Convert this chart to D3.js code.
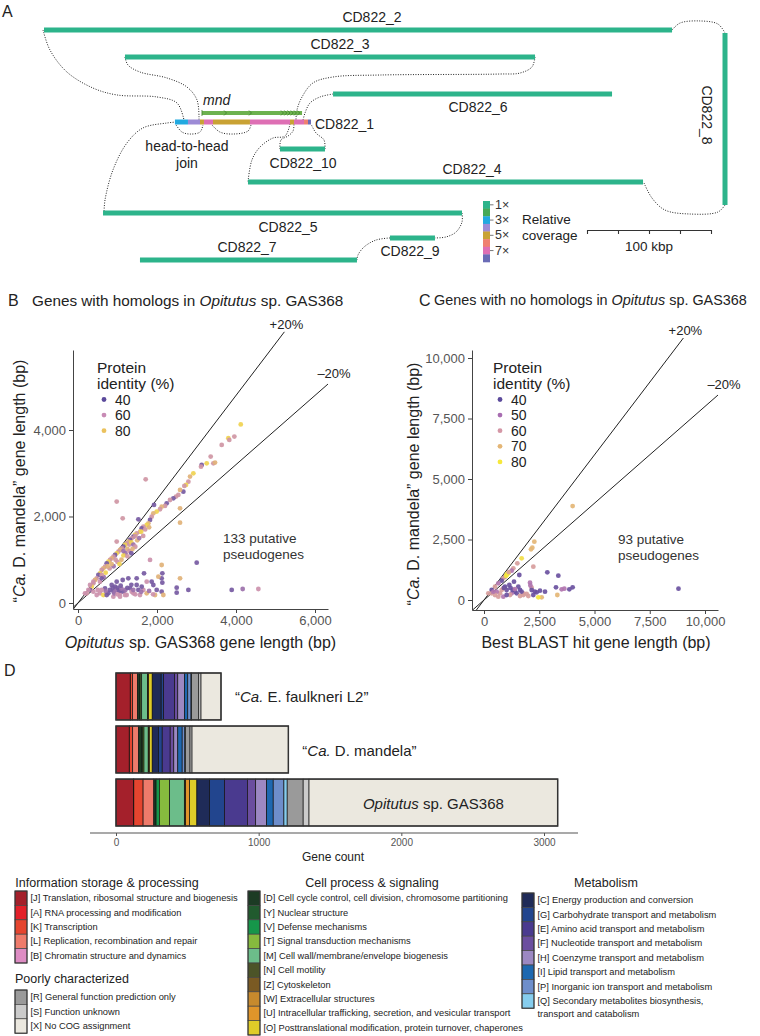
<!DOCTYPE html>
<html>
<head>
<meta charset="utf-8">
<script src="https://cdn.jsdelivr.net/npm/d3@7"></script>
<style>
  body { margin: 0; background: #fff; }
  svg { display: block; font-family: "Liberation Sans", Arial, Helvetica, sans-serif; }
</style>
</head>
<body>
<svg id="fig" width="760" height="1036"></svg>
<script>
// ---------- panel A: contig graph (kbp units) ----------
const contigNames = ["CD822_2", "CD822_3", "CD822_6", "CD822_10", "CD822_4", "CD822_5", "CD822_9", "CD822_7"];
const contigStart = [0, 65.3, 233.1, 190.3, 164.5, 47.6, 279, 77.4];
const contigEnd = [506.5, 396, 458.1, 226.6, 483.1, 337.1, 315.3, 252.4];
const contigRow = [0, 21.8, 51.6, 96, 122.6, 147.6, 167.7, 185.5];
const contigLabelAt = [264.5, 238.7, 350, 208.9, 345.2, 196.8, 295.2, 163.7];
const contigLabelSide = [-1, -1, 1, 1, -1, 1, 1, -1];
// CD822_8 runs vertically
const vertContig = { name: "CD822_8", at: 549.2, from: 2.4, to: 141.1 };
// CD822_1 coverage segments
const c1Breaks = [105.6, 116.1, 125.8, 129, 136.3, 166.1, 198.4, 201.6, 209.7, 212.9, 215.3];
const c1Cov = [3, 4, 5, 7, 5, 7, 5, 7, 6, 8];
const mndSpan = [127.4, 208.1];
const mndRow = 66.9;
const mndGeneEnds = [146.8, 166.9, 192.7, 195.4, 198, 200.6, 203.2, 205.8];
const covLevels = [1, 2, 3, 4, 5, 6, 7, 8];
const covColors = ["#2db48b", "#46a957", "#22a9e0", "#9d8bd6", "#c9a234", "#ef8070", "#de6fb4", "#6a6bb6"];
const covTickLevels = [1, 3, 5, 7];

// dotted joins between contig ends, [kbp, kbp]
const links = [
  [[-0.8, 0], [4.8, 16.1], [18.5, 33.9], [39.5, 46.8], [58.9, 52.4], [91.1, 54], [107.3, 58.9], [112.9, 72.6]],
  [[65.3, 21.8], [67.7, 28.2], [77.4, 33.9], [99.2, 38.7], [115.3, 46], [123.4, 56.5], [125, 72.6]],
  [[106.5, 76.6], [111.3, 82.3], [117.7, 83.9], [125.8, 82.3], [128.2, 76.6]],
  [[135.5, 76.6], [141.9, 82.3], [152.4, 83.9], [164.5, 81.5], [166.9, 76.6]],
  [[106.5, 74.2], [99.2, 75], [79.8, 79], [66.9, 91.1], [55.6, 112.9], [49.2, 137.1], [48.4, 147.6]],
  [[396, 21.8], [393.5, 29.8], [383.9, 34.7], [367.7, 35.5], [271, 36.3], [233.1, 37.9], [216.9, 42.7], [208.1, 54], [204, 64.5], [203.2, 72.6]],
  [[233.1, 51.6], [222.6, 54], [214.5, 58.9], [210.5, 66.9], [208.9, 72.6]],
  [[198.4, 75.8], [194.4, 85.5], [184.7, 87.1], [174.2, 94.4], [167.7, 104.8], [164.5, 122.6]],
  [[190.3, 96], [191.1, 88.7], [196.8, 85.5], [200.8, 81.5], [201.6, 75.8]],
  [[226.6, 96], [225.8, 88.7], [219.4, 83.1], [215.3, 75.8]],
  [[506.5, 0], [512.9, -5.6], [529, -7.3], [543.5, -4.8], [549.2, 2.4]],
  [[549.2, 141.1], [543.5, 146.8], [521, 148.4], [500.8, 145.2], [490.3, 135.5], [483.9, 123.4]],
  [[337.1, 147.6], [337.1, 154.8], [332.3, 162.9], [324.2, 166.9], [315.3, 167.7]],
  [[279, 167.7], [267.7, 169.4], [258.1, 175], [253.2, 181.5], [252.4, 185.5]]
];

// ---------- panel B: [Opitutus length, mandela length, identity %] ----------
const bGenes = [
  [4120,4130,88],[3958,3847,64],[3806,3809,88],[3830,3770,64],[3638,3655,64],[3427,3230,64],[3359,3385,64],
  [3469,3246,74],[3258,3230,88],[3131,3192,45],[3114,3153,64],[2920,2999,88],[2836,2922,74],[2794,2806,64],
  [2735,2729,88],[2692,2706,64],[2667,2575,45],[2583,2614,74],[2540,2498,64],[2481,2460,64],[2414,2421,45],
  [2583,2190,74],[2329,2382,64],[2245,2305,45],[2203,2244,64],[2118,2228,74],[2076,2167,64],[1992,2113,88],
  [1907,2074,74],[1865,1997,64],[2583,1858,74],[1823,1920,45],[1781,1843,74],[1739,1804,88],[1654,1766,64],
  [1612,1727,45],[1570,1650,74],[1485,1611,64],[1443,1573,88],[1401,1534,45],[1359,1496,64],[1317,1457,45],
  [1274,1419,74],[1232,1380,64],[1190,1342,88],[1148,1303,45],[1106,1264,64],[1063,1226,74],[1021,1187,64],
  [979,1149,88],[937,1110,45],[895,1072,64],[852,1033,74],[810,995,64],[768,956,88],[726,917,45],[684,840,64],
  [641,802,74],[599,763,64],[557,686,88],[515,648,45],[473,571,64],[430,532,74],[388,455,64],[346,378,88],
  [304,301,45],[219,224,64],
  [1713,2860,64],[979,2344,64],[1131,1958,64],[1924,2267,45],[1528,1935,45],[979,1419,64],
  [1250,1250,74],[1300,1350,64],[1350,1400,88],[1400,1350,52],[1450,1300,64],[1500,1450,74],[1200,1150,52],
  [1150,1100,88],[1300,1200,64],[1350,1150,45],[1100,1000,74],[1000,950,64],[1050,900,88],[900,850,52],
  [950,1000,64],[850,900,74],[800,800,64],[700,700,88],[650,600,52],[600,650,64],[750,850,74],[1450,1550,64],
  [1550,1500,52],[1600,1650,88],[1700,1700,64],[1800,1750,74],[1650,1550,64],[1380,1250,74],[1250,1080,64],
  [1150,1200,52],
  [3005,933,45],[3891,301,45],[4169,324,52],[4566,324,62],[2794,301,45],[2498,355,45],[2498,239,45],
  [2135,686,45],[2118,571,45],[2135,470,45],[2118,262,45],[2583,571,74],[1823,995,62],[2118,879,74],
  [1671,686,45],[1485,571,45],[1274,571,45],[1131,532,45],[1739,493,62],[1865,493,45],[1907,416,45],
  [1485,416,45],[1528,301,45],[1654,301,62],[1739,224,74],[1950,185,74],[2160,185,74],[1401,224,62],
  [1232,185,62],[1063,147,62],[895,147,62],[937,378,45],[810,301,45],[768,224,45],[684,339,45],[557,224,62],
  [473,185,62],[388,262,62],[262,301,62],[177,224,62],[641,185,88],[726,185,45],[852,416,45],[979,493,45],
  [1021,301,45],[1063,224,62],[1148,262,45],[1190,185,62],[1317,339,45],[1359,262,62],[1570,185,62],
  [1612,378,45],[1992,301,45],[2034,609,74],[557,493,62],[388,493,62],[599,571,45],[304,416,62],
  [900,260,45],[950,300,52],[1000,350,45],[1050,280,45],[1100,330,52],[880,350,45],[920,220,52],
  [1000,200,62],[1080,400,45],[1200,300,52],[1250,350,45],[1350,420,45],[1400,300,52],[1450,200,62],
  [700,280,52],[600,300,62],[500,300,62],[1600,260,52],[1800,280,52],[1900,200,62]
];
const bLegendValues = [40, 60, 80];
const bXTicks = [0, 2000, 4000, 6000];
const bYTicks = [0, 2000, 4000];

// ---------- panel C: [best BLAST hit length, mandela length, identity %] ----------
const cGenes = [
  [4011,3883,70],[2277,2410,70],[2187,2162,70],[2127,2093,70],[1704,1721,78],[2232,1377,62],[1508,1515,62],
  [1327,1308,62],[1252,1212,52],[1101,1102,80],[1025,1033,80],[950,964,52],[875,895,62],[799,799,42],
  [648,689,52],[498,551,62],[347,413,42],[196,275,62],[2865,1143,42],[3363,1005,42],[1598,1033,42],
  [3257,523,42],[4011,523,42],[3861,441,42],[3514,441,52],[3634,468,52],[3318,207,70],[8800,468,42],
  [2760,344,42],[2533,386,42],[2609,110,70],[2458,110,80],[2081,716,52],[2157,509,62],[2157,413,42],
  [1930,248,62],[1779,275,62],[1629,413,42],[1553,551,42],[1402,344,42],[1252,275,52],[1176,207,62],
  [1025,413,42],[950,551,42],[799,413,62],[724,275,62],[573,344,52],[498,207,62],[648,138,62],[875,138,52],
  [1025,207,42],[1297,413,42],[1478,275,42],[1629,165,62],[1779,207,62],[2006,165,62],[2232,207,42],
  [2383,317,42],[347,275,62],[422,344,52],[875,482,62],[1146,620,42],[1357,757,42],[1000,1000,80],
  [1050,1080,80],[1120,1150,62],[900,500,42],[1200,500,42],[1400,450,52],[2100,600,52],[2300,350,42],
  [1700,350,42]
];
const cLegendValues = [40, 50, 60, 70, 80];
const cXTicks = [0, 2500, 5000, 7500, 10000];
const cYTicks = [0, 2500, 5000, 7500, 10000];

// ---------- panel D: COG category counts ----------
const cogCodes = ["J","A","K","L","B","D","Y","V","T","M","N","Z","W","U","O","C","G","E","F","H","I","P","Q","R","S","X"];
const cogColors = ["#a4202b","#e3202a","#e5452f","#ee7b6b","#dd8cc3",
  "#1c3b24","#215a2e","#16964a","#86ba3e","#6cbd8a","#4c5428","#7a5a23","#c78a2d","#e0952a","#dfcc28",
  "#1f2b58","#22458e","#4a3a8f","#6b4e9f","#9c88c2","#1e68b0","#6e8ecb","#86cdee",
  "#9a9a9a","#cbcbcb","#ebe8df"];
const cogNames = {
  J: "Translation, ribosomal structure and biogenesis", A: "RNA processing and modification",
  K: "Transcription", L: "Replication, recombination and repair", B: "Chromatin structure and dynamics",
  D: "Cell cycle control, cell division, chromosome partitioning", Y: "Nuclear structure",
  V: "Defense mechanisms", T: "Signal transduction mechanisms", M: "Cell wall/membrane/envelope biogenesis",
  N: "Cell motility", Z: "Cytoskeleton", W: "Extracellular structures",
  U: "Intracellular trafficking, secretion, and vesicular transport",
  O: "Posttranslational modification, protein turnover, chaperones",
  C: "Energy production and conversion", G: "Carbohydrate transport and metabolism",
  E: "Amino acid transport and metabolism", F: "Nucleotide transport and metabolism",
  H: "Coenzyme transport and metabolism", I: "Lipid transport and metabolism",
  P: "Inorganic ion transport and metabolism", Q: "Secondary metabolites biosynthesis,|transport and catabolism",
  R: "General function prediction only", S: "Function unknown", X: "No COG assignment"
};
const genomes = ["faulkneri", "mandela", "opitutus"];
//                 J   A  K   L  B  D  Y  V  T   M   N Z W  U  O  C   G   E   F  H  I  P  Q  R   S  X
const faulkneriCounts = [100,1,15,35,0,14,0,5,10,40,3,0,0,6,25,63,16,77,23,47,23,23,4,50,16,140];
const mandelaCounts   = [93,1,23,42,0,23,0,6,8,30,3,0,0,5,20,44,26,56,25,28,31,18,4,33,14,675];
const opitutusCounts  = [123,2,65,75,0,16,0,23,72,103,7,0,2,28,51,89,104,161,58,77,46,75,23,112,41,1743];
const countTicks = [0, 1000, 2000, 3000];
const legendGroups = [
  { title: "Information storage & processing", codes: ["J","A","K","L","B"] },
  { title: "Poorly characterized", codes: ["R","S","X"] },
  { title: "Cell process & signaling", codes: ["D","Y","V","T","M","N","Z","W","U","O"] },
  { title: "Metabolism", codes: ["C","G","E","F","H","I","P","Q"] }
];

// ====================================================================
const svg = d3.select("#fig");
const ink = "#222";

function rich(t, parts) {
  parts.forEach(p => t.append("tspan").text(p[0]).attr("font-style", p[1] ? "italic" : null));
  return t;
}

// ---------------- Panel A ----------------
const xK = d3.scaleLinear().domain([0, 100]).range([44, 168]);
const yK = d3.scaleLinear().domain([0, 100]).range([30, 154]);
const covColor = d3.scaleOrdinal().domain(covLevels).range(covColors);
const pA = svg.append("g");

pA.append("text").attr("x", 2).attr("y", 11).attr("dominant-baseline", "central")
  .attr("font-size", 16).attr("fill", ink).text("A");

const linkLine = d3.line().x(d => xK(d[0])).y(d => yK(d[1])).curve(d3.curveCatmullRom.alpha(0.5));
pA.selectAll("path.link").data(links).join("path").attr("class", "link")
  .attr("d", linkLine).attr("fill", "none").attr("stroke", ink)
  .attr("stroke-width", 1).attr("stroke-dasharray", "1 1.5");

pA.selectAll("line.contig").data(contigNames).join("line").attr("class", "contig")
  .attr("x1", (d, i) => xK(contigStart[i])).attr("x2", (d, i) => xK(contigEnd[i]))
  .attr("y1", (d, i) => yK(contigRow[i])).attr("y2", (d, i) => yK(contigRow[i]))
  .attr("stroke", covColor(1)).attr("stroke-width", 5);

pA.selectAll("text.clabel").data(contigNames).join("text").attr("class", "clabel")
  .attr("x", (d, i) => xK(contigLabelAt[i]))
  .attr("y", (d, i) => yK(contigRow[i]) + contigLabelSide[i] * 13.5)
  .attr("text-anchor", "middle").attr("dominant-baseline", "central")
  .attr("font-size", 14).attr("fill", ink).text(d => d);

pA.append("line")
  .attr("x1", xK(vertContig.at)).attr("x2", xK(vertContig.at))
  .attr("y1", yK(vertContig.from)).attr("y2", yK(vertContig.to))
  .attr("stroke", covColor(1)).attr("stroke-width", 5);
pA.append("text")
  .attr("transform", `translate(${xK(vertContig.at) - 18},${yK((vertContig.from + vertContig.to) / 2) - 4}) rotate(90)`)
  .attr("text-anchor", "middle").attr("dominant-baseline", "central")
  .attr("font-size", 14).attr("fill", ink).text(vertContig.name);

// mnd genes
const mndY = yK(mndRow);
pA.append("line").attr("x1", xK(mndSpan[0])).attr("x2", xK(mndSpan[1]))
  .attr("y1", mndY).attr("y2", mndY).attr("stroke", "#6db24f").attr("stroke-width", 4);
pA.append("line").attr("x1", xK(mndSpan[0])).attr("x2", xK(mndSpan[0]))
  .attr("y1", mndY - 3).attr("y2", mndY + 3).attr("stroke", "#3f7f2c").attr("stroke-width", 0.8);
pA.selectAll("path.chev").data(mndGeneEnds).join("path").attr("class", "chev")
  .attr("d", d => `M${xK(d) - 2},${mndY - 2.5}L${xK(d) + 0.5},${mndY}L${xK(d) - 2},${mndY + 2.5}`)
  .attr("fill", "none").attr("stroke", "#3f7f2c").attr("stroke-width", 0.8);
pA.append("text").attr("x", xK(mndSpan[0]) + 1).attr("y", mndY - 13)
  .attr("dominant-baseline", "central").attr("font-size", 14).attr("font-style", "italic")
  .attr("fill", ink).text("mnd");

// CD822_1 coloured by coverage
const c1Y = yK(contigRow[0]) + (122 - 30);
pA.selectAll("rect.c1").data(c1Cov).join("rect").attr("class", "c1")
  .attr("x", (d, i) => xK(c1Breaks[i])).attr("width", (d, i) => xK(c1Breaks[i + 1]) - xK(c1Breaks[i]))
  .attr("y", c1Y - 2.5).attr("height", 5).attr("fill", d => covColor(d));
pA.append("text").attr("x", xK(c1Breaks[c1Breaks.length - 1]) + 4).attr("y", c1Y + 2)
  .attr("dominant-baseline", "central").attr("font-size", 14).attr("fill", ink).text("CD822_1");
pA.append("text").attr("x", 187).attr("y", 146).attr("text-anchor", "middle")
  .attr("dominant-baseline", "central").attr("font-size", 14).attr("fill", ink).text("head-to-head");
pA.append("text").attr("x", 187).attr("y", 163).attr("text-anchor", "middle")
  .attr("dominant-baseline", "central").attr("font-size", 14).attr("fill", ink).text("join");

// coverage legend
const covY = d3.scaleBand().domain(covLevels).range([201, 262]);
const covG = pA.append("g");
covG.selectAll("rect").data(covLevels).join("rect")
  .attr("x", 483).attr("width", 7).attr("y", d => covY(d)).attr("height", covY.bandwidth() + 0.3)
  .attr("fill", d => covColor(d));
covG.selectAll("line").data(covTickLevels).join("line")
  .attr("x1", 490).attr("x2", 493.5)
  .attr("y1", d => covY(d) + covY.bandwidth() / 2).attr("y2", d => covY(d) + covY.bandwidth() / 2)
  .attr("stroke", "#555").attr("stroke-width", 0.8);
covG.selectAll("text").data(covTickLevels).join("text")
  .attr("x", 495).attr("y", d => covY(d) + covY.bandwidth() / 2)
  .attr("dominant-baseline", "central").attr("font-size", 12.5).attr("fill", "#333").text(d => d + "×");
covG.append("text").attr("x", 522).attr("y", 219).attr("dominant-baseline", "central")
  .attr("font-size", 13.5).attr("fill", ink).text("Relative");
covG.append("text").attr("x", 522).attr("y", 235).attr("dominant-baseline", "central")
  .attr("font-size", 13.5).attr("fill", ink).text("coverage");

// scale bar
const sb = d3.scaleLinear().domain([0, 100]).range([587, 587 + xK(100) - xK(0)]);
const sbG = pA.append("g").attr("transform", "translate(0,230)")
  .call(d3.axisBottom(sb).tickValues([0, 25, 50, 75, 100]).tickSize(4).tickSizeOuter(0).tickFormat(""));
sbG.selectAll("path,line").attr("stroke", "#333").attr("stroke-width", 1.1);
pA.append("text").attr("x", (sb(0) + sb(100)) / 2).attr("y", 246).attr("text-anchor", "middle")
  .attr("dominant-baseline", "central").attr("font-size", 13.5).attr("fill", ink).text("100 kbp");

// ---------------- Panels B and C ----------------
function scatterPanel(cfg) {
  const g = svg.append("g");
  const x = d3.scaleLinear().domain(cfg.xDom).range(cfg.xRange);
  const y = d3.scaleLinear().domain(cfg.yDom).range(cfg.yRange);

  g.append("text").attr("x", cfg.letterX).attr("y", 300).attr("dominant-baseline", "central")
    .attr("font-size", 16).attr("fill", ink).text(cfg.letter);
  rich(g.append("text").attr("x", cfg.titleX).attr("y", 300).attr("dominant-baseline", "central")
    .attr("font-size", cfg.titleSize).attr("fill", ink), cfg.title);

  // +/-20% guide lines
  const up = [[Math.max(cfg.xDom[0], cfg.yDom[0] / 1.2), 0], [cfg.plusTop / 1.2, cfg.plusTop]];
  up[0][1] = up[0][0] * 1.2;
  const dn = [[Math.max(cfg.xDom[0], cfg.yDom[0] / 0.8), 0], [cfg.xDom[1], cfg.xDom[1] * 0.8]];
  dn[0][1] = dn[0][0] * 0.8;
  const gl = d3.line().x(d => x(d[0])).y(d => y(d[1]));
  [up, dn].forEach(l => g.append("path").attr("d", gl(l)).attr("stroke", ink)
    .attr("stroke-width", 1).attr("fill", "none"));
  g.append("text").attr("x", x(up[1][0]) + 2).attr("y", y(up[1][1]) - 3).attr("text-anchor", "middle")
    .attr("font-size", 13).attr("fill", ink).text("+20%");
  g.append("text").attr("x", x(dn[1][0]) + 6).attr("y", y(dn[1][1]) - 6).attr("text-anchor", "middle")
    .attr("font-size", 13).attr("fill", ink).text("\u201320%");

  const col = d3.scaleLinear().domain(cfg.colDom).range(cfg.colRange);
  g.selectAll("circle.pt").data(cfg.data).join("circle").attr("class", "pt")
    .attr("cx", d => x(d[0])).attr("cy", d => y(d[1])).attr("r", 2.4)
    .attr("fill", d => col(d[2])).attr("fill-opacity", 0.92);

  // axes
  const ax = g.append("g").attr("transform", `translate(0,${cfg.yRange[0]})`)
    .call(d3.axisBottom(x).tickValues(cfg.xTicks).tickFormat(d3.format(",")).tickSize(4).tickSizeOuter(0));
  const ay = g.append("g").attr("transform", `translate(${cfg.xRange[0]},0)`)
    .call(d3.axisLeft(y).tickValues(cfg.yTicks).tickFormat(d3.format(",")).tickSize(4).tickSizeOuter(0));
  [ax, ay].forEach(a => {
    a.selectAll("path,line").attr("stroke", "#444").attr("stroke-width", 1);
    a.selectAll("text").attr("fill", "#555").attr("font-size", 13)
      .attr("font-family", "Liberation Sans, Arial, sans-serif");
  });

  rich(g.append("text").attr("x", (cfg.xRange[0] + cfg.xRange[1]) / 2 + cfg.xTitleShift).attr("y", 642)
    .attr("text-anchor", "middle").attr("dominant-baseline", "central").attr("font-size", 16)
    .attr("fill", ink), cfg.xTitle);
  rich(g.append("text").attr("transform", `translate(${cfg.yTitleX},${cfg.yTitleY}) rotate(-90)`)
    .attr("text-anchor", "middle").attr("dominant-baseline", "central").attr("font-size", 16)
    .attr("fill", ink), [["\u201c", false], ["Ca.", true], [" D. mandela\u201d gene length (bp)", false]]);

  // pseudogene note
  const nt = g.append("text").attr("x", x(cfg.note[0])).attr("y", y(cfg.note[1]))
    .attr("font-size", 13.5).attr("fill", "#333");
  nt.append("tspan").attr("x", x(cfg.note[0])).attr("dy", 0).text(cfg.noteText);
  nt.append("tspan").attr("x", x(cfg.note[0])).attr("dy", 16).text("pseudogenes");

  // identity legend
  const lg = g.append("g");
  lg.append("text").attr("x", cfg.legX).attr("y", 367).attr("dominant-baseline", "central")
    .attr("font-size", 15.5).attr("fill", ink).text("Protein");
  lg.append("text").attr("x", cfg.legX).attr("y", 383).attr("dominant-baseline", "central")
    .attr("font-size", 15.5).attr("fill", ink).text("identity (%)");
  lg.selectAll("circle").data(cfg.legVals).join("circle")
    .attr("cx", cfg.legX + 7).attr("cy", (d, i) => 399.5 + i * 15.6).attr("r", 2.4)
    .attr("fill", d => col(d));
  lg.selectAll("text.lv").data(cfg.legVals).join("text").attr("class", "lv")
    .attr("x", cfg.legX + 18).attr("y", (d, i) => 399.5 + i * 15.6).attr("dominant-baseline", "central")
    .attr("font-size", 14).attr("fill", ink).text(d => d);
}

scatterPanel({
  letter: "B", letterX: 8, titleX: 32, titleSize: 15.3,
  title: [["Genes with homologs in ", false], ["Opitutus", true], [" sp. GAS368", false]],
  data: bGenes, xDom: [-127, 6329], xRange: [73, 328], yDom: [-139, 5850], yRange: [609, 350],
  xTicks: bXTicks, yTicks: bYTicks, plusTop: 6270,
  colDom: [40, 60, 80, 95], colRange: ["#5b4a9b", "#c88bb5", "#ebc25e", "#f4e243"],
  xTitle: [["Opitutus", true], [" sp. GAS368 gene length (bp)", false]], xTitleShift: 0,
  yTitleX: 19, yTitleY: 481, note: [3671, 1387], noteText: "133 putative",
  legX: 97, legVals: bLegendValues
});
scatterPanel({
  letter: "C", letterX: 419, titleX: 434, titleSize: 14.4,
  title: [["Genes with no homologs in ", false], ["Opitutus", true], [" sp. GAS368", false]],
  data: cGenes, xDom: [-543, 10588], xRange: [472, 718], yDom: [-413, 10331], yRange: [610, 350],
  xTicks: cXTicks, yTicks: cYTicks, plusTop: 10826,
  colDom: [40, 50, 60, 70, 80], colRange: ["#5b4a9b", "#a86db1", "#d497a6", "#e4b676", "#f6e83b"],
  xTitle: [["Best BLAST hit gene length (bp)", false]], xTitleShift: 1,
  yTitleX: 413, yTitleY: 484, note: [6063, 2314], noteText: "93 putative",
  legX: 493, legVals: cLegendValues
});

// ---------------- Panel D ----------------
const pD = svg.append("g");
pD.append("text").attr("x", 4).attr("y", 670).attr("dominant-baseline", "central")
  .attr("font-size", 16).attr("fill", ink).text("D");

const countsByGenome = [faulkneriCounts, mandelaCounts, opitutusCounts];
const rows = genomes.map((gname, gi) => {
  const r = { genome: gname };
  cogCodes.forEach((c, ci) => { r[c] = countsByGenome[gi][ci]; });
  return r;
});
const stacked = d3.stack().keys(cogCodes)(rows);
const xD = d3.scaleLinear().domain([0, 3000]).range([116, 544]);
const yD = d3.scaleBand().domain(genomes).range([673, 826]).paddingInner(0.115);
const cogColor = d3.scaleOrdinal().domain(cogCodes).range(cogColors);

pD.selectAll("g.layer").data(stacked).join("g").attr("class", "layer")
  .attr("fill", d => cogColor(d.key))
  .selectAll("rect").data(d => d).join("rect")
  .attr("x", d => xD(d[0])).attr("width", d => xD(d[1]) - xD(d[0]))
  .attr("y", d => yD(d.data.genome)).attr("height", yD.bandwidth())
  .attr("stroke", "#111").attr("stroke-width", d => d[1] > d[0] ? 0.7 : 0);
pD.selectAll("rect.outline").data(rows).join("rect").attr("class", "outline")
  .attr("x", xD(0)).attr("width", d => xD(d3.sum(cogCodes, c => d[c])) - xD(0))
  .attr("y", d => yD(d.genome)).attr("height", yD.bandwidth())
  .attr("fill", "none").attr("stroke", "#333").attr("stroke-width", 1.5);

const totals = rows.map(r => d3.sum(cogCodes, c => r[c]));
rich(pD.append("text").attr("x", xD(totals[0]) + 14).attr("y", yD("faulkneri") + yD.bandwidth() / 2)
  .attr("dominant-baseline", "central").attr("font-size", 15).attr("fill", ink),
  [["\u201c", false], ["Ca.", true], [" E. faulkneri L2\u201d", false]]);
rich(pD.append("text").attr("x", xD(totals[1]) + 14).attr("y", yD("mandela") + yD.bandwidth() / 2)
  .attr("dominant-baseline", "central").attr("font-size", 15).attr("fill", ink),
  [["\u201c", false], ["Ca.", true], [" D. mandela\u201d", false]]);
const xStart = totals[2] - opitutusCounts[opitutusCounts.length - 1];
rich(pD.append("text").attr("x", (xD(xStart) + xD(totals[2])) / 2).attr("y", yD("opitutus") + yD.bandwidth() / 2)
  .attr("text-anchor", "middle").attr("dominant-baseline", "central").attr("font-size", 15).attr("fill", ink),
  [["Opitutus", true], [" sp. GAS368", false]]);

pD.append("line").attr("x1", 90).attr("x2", 578).attr("y1", 833).attr("y2", 833)
  .attr("stroke", "#555").attr("stroke-width", 1.2);
const axD = pD.append("g").attr("transform", "translate(0,833)")
  .call(d3.axisBottom(xD).tickValues(countTicks).tickFormat(d3.format("d")).tickSize(3).tickSizeOuter(0));
axD.select(".domain").remove();
axD.selectAll("line").attr("stroke", "#555");
axD.selectAll("text").attr("fill", "#555").attr("font-size", 10).attr("font-family", "Liberation Sans, Arial, sans-serif");
pD.append("text").attr("x", 333).attr("y", 857).attr("text-anchor", "middle")
  .attr("dominant-baseline", "central").attr("font-size", 12).attr("fill", ink).text("Gene count");

// COG legend
const legLayout = [
  { titleX: 107, titleY: 883, anchor: "middle", sx: 15, top: 891 },
  { titleX: 15, titleY: 979, anchor: "start", sx: 15, top: 990 },
  { titleX: 372, titleY: 883, anchor: "middle", sx: 248, top: 891 },
  { titleX: 606, titleY: 883, anchor: "middle", sx: 522, top: 893 }
];
const rowH = 14.4;
legendGroups.forEach((grp, gi) => {
  const L = legLayout[gi];
  const lg = svg.append("g");
  lg.append("text").attr("x", L.titleX).attr("y", L.titleY).attr("text-anchor", L.anchor)
    .attr("dominant-baseline", "central").attr("font-size", 12.5).attr("fill", ink).text(grp.title);
  lg.selectAll("rect").data(grp.codes).join("rect")
    .attr("x", L.sx).attr("y", (d, i) => L.top + i * rowH).attr("width", 12).attr("height", rowH)
    .attr("fill", d => cogColor(d)).attr("stroke", "#444").attr("stroke-width", 0.7);
  lg.append("rect").attr("x", L.sx).attr("y", L.top).attr("width", 12).attr("height", rowH * grp.codes.length)
    .attr("fill", "none").attr("stroke", "#333").attr("stroke-width", 1);
  grp.codes.forEach((c, i) => {
    const lines = cogNames[c].split("|");
    lines.forEach((ln, li) => {
      lg.append("text").attr("x", L.sx + 15.5).attr("y", L.top + i * rowH + rowH / 2 + li * 12.5)
        .attr("dominant-baseline", "central").attr("font-size", 9.3).attr("fill", "#222")
        .text(li === 0 ? `[${c}] ${ln}` : ln);
    });
  });
});
</script>
</body>
</html>
